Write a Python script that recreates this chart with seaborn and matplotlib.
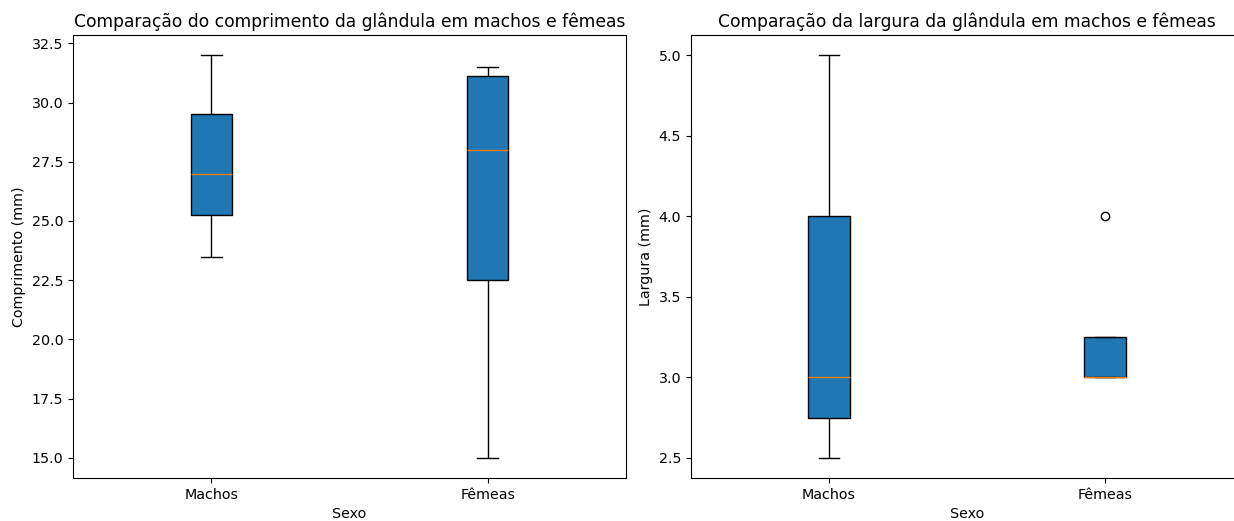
import pandas as pd
import numpy as np
import matplotlib.pyplot as plt
import seaborn as sns

# valores estimados a partir do gráfico (5 medidas por sexo)
sexo = ['Machos'] * 5 + ['Fêmeas'] * 5
comprimento_machos = [23.5, 25.25, 27.0, 29.5, 32.0]
comprimento_femeas = [15.0, 22.5, 28.0, 31.1, 31.5]
largura_machos = [2.5, 2.75, 3.0, 4.0, 5.0]
largura_femeas = [3.0, 3.0, 3.0, 3.25, 4.0]

df = pd.DataFrame({
    'Sexo': sexo,
    'Comprimento (mm)': comprimento_machos + comprimento_femeas,
    'Largura (mm)': largura_machos + largura_femeas,
})

plt.rcParams['font.size'] = 10.3

W, H = 1234, 521
fig = plt.figure(figsize=(W / 100, H / 100), dpi=100)
# posições em pixels (o painel direito passa da borda)
ax1 = fig.add_axes([73 / W, (H - 478) / H, 553 / W, 443 / H])
ax2 = fig.add_axes([691 / W, (H - 478) / H, 552 / W, 443 / H])

estilo = dict(
    width=0.15, color='#1f77b4', saturation=1, linecolor='black', linewidth=1,
    medianprops={'color': '#ff7f0e'},
    flierprops={'marker': 'o', 'markerfacecolor': 'none',
                'markeredgecolor': 'black', 'markersize': 6},
)

sns.boxplot(data=df, x='Sexo', y='Comprimento (mm)', ax=ax1, **estilo)
ax1.set_title('Comparação do comprimento da glândula em machos e fêmeas')

sns.boxplot(data=df, x='Sexo', y='Largura (mm)', ax=ax2, **estilo)
ax2.set_title('Comparação da largura da glândula em machos e fêmeas')
ax2.spines['right'].set_visible(False)

for ax in (ax1, ax2):
    ax.set_xlim(-0.5, 1.5)

plt.savefig('out.png')
